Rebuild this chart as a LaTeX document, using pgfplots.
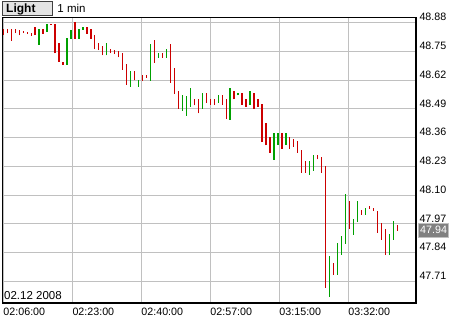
\documentclass[border=0pt]{standalone}
\usepackage{fontspec}
\setmainfont{Liberation Sans}
\usepackage{pgfplots}
\pgfplotsset{compat=1.18}
\usepackage{pgfplotstable}
\definecolor{barred}{RGB}{204,0,0}
\definecolor{bargreen}{RGB}{0,160,0}
\definecolor{gridgray}{RGB}{192,192,192}
\definecolor{pricebox}{RGB}{128,128,128}
\definecolor{btnfill}{RGB}{228,228,228}
\newcommand{\tfont}{\fontsize{10.7bp}{12bp}\selectfont}

\pgfplotstableread{
x lo hi
0 48.823 48.850
1 48.832 48.850
2 48.799 48.850
3 48.832 48.850
4 48.822 48.847
5 48.832 48.841
6 48.830 48.837
7 48.821 48.833
8 48.823 48.859
10 48.830 48.850
12 48.870 48.874
13 48.741 48.874
14 48.702 48.786
15 48.689 48.704
18 48.806 48.883
21 48.829 48.861
22 48.806 48.850
23 48.759 48.824
24 48.756 48.786
25 48.732 48.775
27 48.742 48.759
28 48.738 48.755
29 48.723 48.751
30 48.666 48.741
31 48.598 48.692
33 48.619 48.661
35 48.616 48.643
36 48.630 48.642
38 48.699 48.802
40 48.720 48.744
42 48.609 48.784
43 48.557 48.675
44 48.491 48.572
48 48.506 48.536
49 48.470 48.536
51 48.518 48.563
52 48.508 48.536
53 48.508 48.536
55 48.509 48.554
56 48.443 48.536
58 48.533 48.572
60 48.509 48.563
61 48.500 48.536
63 48.491 48.563
64 48.500 48.536
65 48.340 48.512
66 48.325 48.425
67 48.292 48.364
70 48.310 48.382
72 48.310 48.364
73 48.319 48.355
74 48.292 48.346
75 48.201 48.304
76 48.201 48.256
79 48.262 48.283
80 48.201 48.274
81 47.680 48.232
83 47.740 47.791
87 47.947 48.073
90 48.010 48.034
92 48.037 48.052
93 48.028 48.043
94 47.929 48.028
95 47.898 47.974
96 47.829 47.947
99 47.938 47.965
}\redtab

\pgfplotstableread{
x lo hi
9 48.780 48.850
11 48.839 48.874
16 48.689 48.811
17 48.806 48.845
19 48.806 48.851
20 48.847 48.861
26 48.732 48.786
32 48.589 48.661
34 48.589 48.620
37 48.618 48.784
39 48.722 48.743
41 48.720 48.762
45 48.482 48.554
46 48.458 48.548
47 48.500 48.585
50 48.491 48.563
54 48.518 48.554
57 48.440 48.585
59 48.551 48.563
62 48.509 48.572
68 48.259 48.382
69 48.328 48.382
71 48.328 48.382
77 48.190 48.256
78 48.210 48.283
82 47.640 47.825
84 47.740 47.885
85 47.830 47.915
86 47.881 48.105
88 47.920 47.992
89 47.980 48.073
91 48.010 48.040
97 47.829 47.923
98 47.898 47.983
}\greentab

\begin{document}
\begin{tikzpicture}
\begin{axis}[
  scale only axis, width=413.3bp, height=285.7bp,
  at={(0,0)}, anchor=south west,
  xmin=-0.15, xmax=103.7, ymin=47.612, ymax=48.904,
  axis line style={black, line width=1.2bp},
  xtick={0,17.34,34.67,52.0,69.35,86.68},
  xticklabels={02:06:00,02:23:00,02:40:00,02:57:00,03:15:00,03:32:00},
  ytick={47.71,47.84,47.97,48.10,48.23,48.36,48.49,48.62,48.75,48.88},
  yticklabels={47.71,47.84,47.97,48.10,48.23,48.36,48.49,48.62,48.75,48.88},
  yticklabel pos=right,
  xmajorgrids, ymajorgrids,
  major grid style={draw=gridgray, line width=1bp},
  major tick length=0pt,
  xticklabel style={anchor=north west, inner sep=0pt, yshift=-5bp, font=\tfont},
  yticklabel style={anchor=south west, inner sep=0pt, xshift=3.3bp, yshift=1.4bp, font=\tfont},
]
\addplot[draw=barred, line width=1.3bp, mark=none,
  quiver={u=0, v=\thisrow{hi}-\thisrow{lo}, scale arrows=1}]
  table[x=x, y=lo] {\redtab};
\addplot[draw=bargreen, line width=1.3bp, mark=none,
  quiver={u=0, v=\thisrow{hi}-\thisrow{lo}, scale arrows=1}]
  table[x=x, y=lo] {\greentab};
\end{axis}
\begin{scope}[x=1bp, y=-1bp, shift={(-2.7bp,303bp)}]
  \draw[fill=btnfill, draw=black!75, line width=0.8bp] (2.7,1.3) rectangle (52.7,15.3);
  \node[anchor=base west, inner sep=0pt, font=\fontsize{12bp}{13bp}\selectfont\bfseries] at (6,12.3) {Light};
  \node[anchor=base west, inner sep=0pt, font=\fontsize{11.5bp}{13bp}\selectfont] at (57.3,12.5) {1 min};
  \node[anchor=base west, inner sep=0pt, font=\fontsize{11.5bp}{13bp}\selectfont] at (4,299.5) {02.12 2008};
  \node[anchor=west, fill=pricebox, draw=gridgray, line width=0.8bp, text=white, inner xsep=1.5bp, inner ysep=0pt, minimum height=14bp, font=\tfont] at (418.3,230.3) {47.94};
\end{scope}
\pgfresetboundingbox
\path[use as bounding box] (-2.7bp,-17bp) rectangle (457.3bp,303bp);
\end{tikzpicture}
\end{document}
